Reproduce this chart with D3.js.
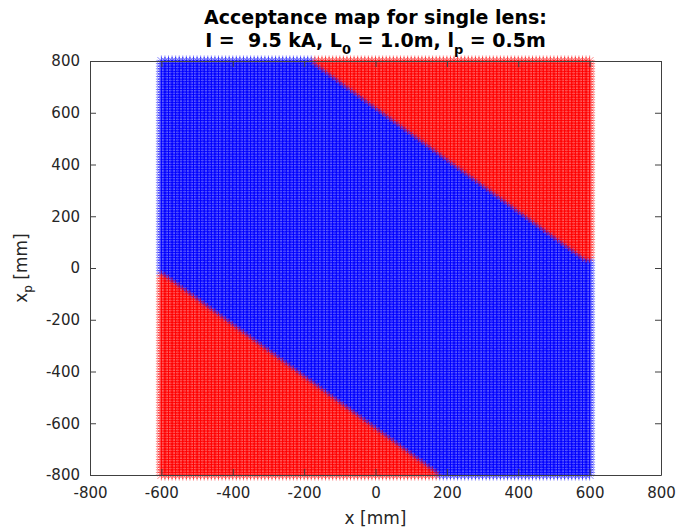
<!DOCTYPE html>
<html lang="en">
<head>
<meta charset="utf-8">
<title>Acceptance map</title>
<script src="https://cdn.jsdelivr.net/npm/d3@7"></script>
<style>
  body { margin: 0; background: #fff; }
  text { font-family: "DejaVu Sans", sans-serif; }
</style>
</head>
<body>
<script>
// scan grid (mm)
var xStart = -600, xEnd = 600, xStep = 10;
var yStart = -800, yEnd = 800, yStep = 10;
// acceptance edges: [x, xp] in mm
var upperEdge = [[-180, 800], [600, 30]];
var lowerEdge = [[-600, -25], [180, -800]];
var xTicks = [-800, -600, -400, -200, 0, 200, 400, 600, 800];
var yTicks = [-800, -600, -400, -200, 0, 200, 400, 600, 800];
var inColor = "#0000ff", outColor = "#ff0000";

var w = 679, h = 532;
var padL = 90, padR = 661, padT = 61, padB = 475;

var svg = d3.select("body").append("svg")
  .attr("width", w).attr("height", h);

var xScale = d3.scaleLinear().domain([-800, 800]).range([padL, padR]);
var yScale = d3.scaleLinear().domain([-800, 800]).range([padB, padT]);

// line through two edge points -> xp at given x
function edgeAt(edge, x) {
  var t = (x - edge[0][0]) / (edge[1][0] - edge[0][0]);
  return edge[0][1] + t * (edge[1][1] - edge[0][1]);
}

var pts = [];
d3.range(xStart, xEnd + 0.1, xStep).forEach(function(x) {
  d3.range(yStart, yEnd + 0.1, yStep).forEach(function(y) {
    var ok = y <= edgeAt(upperEdge, x) && y >= edgeAt(lowerEdge, x);
    pts.push({x: x, y: y, ok: ok});
  });
});
// blue first, red over it
pts.sort(function(a, b) { return (b.ok ? 1 : 0) - (a.ok ? 1 : 0); });

var r = 5.5, d = r * 0.7;
function star(p) {
  var cx = xScale(p.x), cy = yScale(p.y);
  return "M" + (cx - r) + "," + cy + "h" + 2 * r +
         "M" + cx + "," + (cy - r) + "v" + 2 * r +
         "M" + (cx - d) + "," + (cy - d) + "l" + 2 * d + "," + 2 * d +
         "M" + (cx - d) + "," + (cy + d) + "l" + 2 * d + "," + (-2 * d);
}

svg.append("g").selectAll("path")
  .data(pts)
  .enter().append("path")
  .attr("d", star)
  .attr("fill", "none")
  .attr("stroke", function(p) { return p.ok ? inColor : outColor; })
  .attr("stroke-width", 0.5);

// box + axes
var axCol = "#404040";
var fmt = function(v) { return String(v); };
var xAxis = d3.axisBottom(xScale).tickValues(xTicks).tickSizeInner(-6).tickSizeOuter(0).tickPadding(12).tickFormat(fmt);
var yAxis = d3.axisLeft(yScale).tickValues(yTicks).tickSizeInner(-6).tickSizeOuter(0).tickPadding(10).tickFormat(fmt);
var xAxisTop = d3.axisTop(xScale).tickValues(xTicks).tickSizeInner(-6).tickSizeOuter(0).tickFormat("");
var yAxisRight = d3.axisRight(yScale).tickValues(yTicks).tickSizeInner(-6).tickSizeOuter(0).tickFormat("");

function styleAxis(g) {
  g.selectAll("path").attr("stroke", axCol);
  g.selectAll("line").attr("stroke", axCol);
  g.selectAll("text").attr("fill", "#262626").style("font-size", "15px")
    .style("font-family", "DejaVu Sans, sans-serif");
}

svg.append("g").attr("transform", "translate(0," + padB + ")").call(xAxis).call(styleAxis);
svg.append("g").attr("transform", "translate(" + padL + ",0)").call(yAxis).call(styleAxis);
svg.append("g").attr("transform", "translate(0," + padT + ")").call(xAxisTop).call(styleAxis);
svg.append("g").attr("transform", "translate(" + padR + ",0)").call(yAxisRight).call(styleAxis);

// labels
svg.append("text")
  .attr("x", (padL + padR) / 2).attr("y", 524)
  .attr("text-anchor", "middle").attr("fill", "#262626")
  .style("font-size", "17px")
  .text("x [mm]");

var yl = svg.append("text")
  .attr("transform", "translate(27," + ((padT + padB) / 2) + ") rotate(-90)")
  .attr("text-anchor", "middle").attr("fill", "#262626")
  .style("font-size", "17px");
yl.append("tspan").text("x");
yl.append("tspan").attr("dy", 5).style("font-size", "12px").text("p");
yl.append("tspan").attr("dy", -5).text(" [mm]");

svg.append("text")
  .attr("x", (padL + padR) / 2).attr("y", 24)
  .attr("text-anchor", "middle").attr("fill", "#000")
  .style("font-size", "19px").style("font-weight", "bold")
  .text("Acceptance map for single lens:");

var t2 = svg.append("text")
  .attr("x", (padL + padR) / 2).attr("y", 47)
  .attr("text-anchor", "middle").attr("fill", "#000")
  .style("font-size", "19px").style("font-weight", "bold")
  .attr("xml:space", "preserve");
t2.append("tspan").text("I =  9.5 kA, L");
t2.append("tspan").attr("dy", 7).style("font-size", "13px").text("0");
t2.append("tspan").attr("dy", -7).text(" = 1.0m, l");
t2.append("tspan").attr("dy", 7).style("font-size", "13px").text("p");
t2.append("tspan").attr("dy", -7).text(" = 0.5m");
</script>
</body>
</html>
